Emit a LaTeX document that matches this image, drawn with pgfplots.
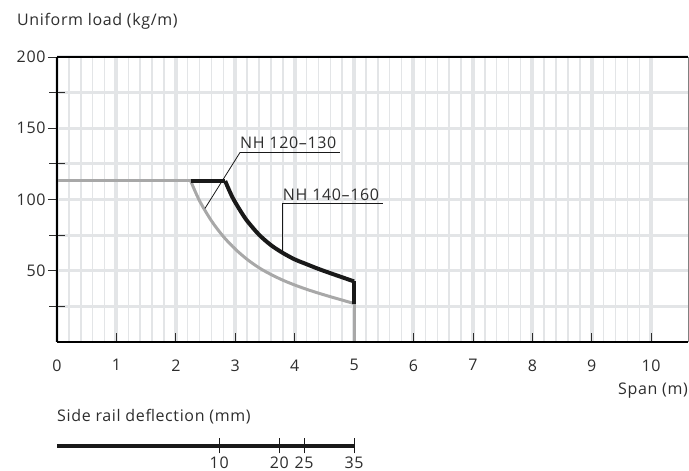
\documentclass[border=0pt]{standalone}
\usepackage{fontspec}
\setmainfont[LetterSpace=4]{Open Sans}
\usepackage{pgfplots}
\pgfplotsset{compat=1.18}
\definecolor{gridc}{RGB}{227,229,231}
\definecolor{txt}{RGB}{45,45,45}
\definecolor{lgray}{RGB}{168,168,168}
\definecolor{dk}{RGB}{25,25,25}

\begin{document}
\begin{tikzpicture}[font=\fontsize{16}{18}\selectfont, text=txt]
\useasboundingbox (0,0) rectangle (689pt,471pt);
\node[anchor=base west, inner sep=0pt] at (17pt,445pt) {Uniform load (kg/m)};
\begin{axis}[
  at={(57pt,129pt)}, anchor=south west,
  scale only axis, width=631pt, height=285pt,
  xmin=0, xmax=10.62, ymin=0, ymax=200,
  axis line style={draw=none},
  xtick={0,...,10}, ytick={50,100,150,200},
  extra y ticks={25,75,125,175}, extra y tick labels={},
  extra y tick style={grid=major, ytick align=center, major tick length=15pt},
  minor x tick num=4,
  xmajorgrids, xminorgrids, ymajorgrids,
  major x grid style={gridc, line width=4pt},
  minor x grid style={gridc, line width=1.5pt},
  major y grid style={gridc, line width=3pt},
  minor tick length=0pt,
  xtick align=inside, ytick align=outside,
  major tick length=9pt,
  tick style={txt, line width=0.8pt},
  xtick pos=bottom, ytick pos=left,
  /pgf/number format/assume math mode=true,
  ticklabel style={font=\fontsize{16}{18}\selectfont},
  xticklabel style={yshift=-14pt},
  yticklabel style={xshift=1pt},
  clip=false,
]
% NH 120-130
\addplot[lgray, line width=3pt] coordinates {(0,113) (2.25,113)};
\addplot[lgray, line width=3pt, smooth, tension=0.5] coordinates
  {(2.25,113) (2.4,99) (2.6,85) (2.8,74) (3.0,65.2) (3.2,58) (3.4,52.1) (3.6,47.4) (3.8,43.4) (4.0,40) (4.2,37) (4.4,34.3) (4.6,31.8) (4.8,29.4) (5,27)};
\addplot[lgray, line width=3pt] coordinates {(5,27) (5,0)};
% NH 140-160
\addplot[dk, line width=4pt] coordinates {(2.25,113) (2.83,113)};
\addplot[dk, line width=4pt, smooth, tension=0.5] coordinates
  {(2.83,113) (2.95,101.8) (3.08,92.5) (3.2,85) (3.4,75.3) (3.6,68) (3.8,62.5) (4.0,58) (4.2,54.6) (4.4,51.3) (4.6,48.3) (4.8,45.4) (5,42.5)};
\addplot[dk, line width=4pt] coordinates {(5,42.5) (5,27)};
% leaders
\draw[dk, line width=0.8pt] (axis cs:2.49,93.7) -- (axis cs:3.08,133) -- (axis cs:4.76,133);
\node[anchor=base west, inner sep=0pt] at (axis cs:3.08,135.8) {NH 120–130};
\draw[dk, line width=0.8pt] (axis cs:3.8,62.5) -- (axis cs:3.8,97.2) -- (axis cs:5.49,97.2);
\node[anchor=base west, inner sep=0pt] at (axis cs:3.8,99.6) {NH 140–160};
% frame
\draw[gray, line width=0.8pt] (rel axis cs:1,0) -- (rel axis cs:1,1);
\draw[black, line width=1.5pt] (rel axis cs:0,1) -- (rel axis cs:1,1);
\draw[black, line width=2pt] (rel axis cs:0,0) -- (rel axis cs:1,0);
\draw[black, line width=2pt] (rel axis cs:0,0) -- (rel axis cs:0,1);
\end{axis}
\node[anchor=base east, inner sep=0pt] at (688pt,76pt) {Span (m)};
\node[anchor=base west, inner sep=0pt] at (57pt,49pt) {Side rail deflection (mm)};
\begin{axis}[
  at={(57pt,25pt)}, anchor=south west,
  scale only axis, width=631pt, height=10pt,
  xmin=0, xmax=10.62, ymin=0, ymax=1,
  axis y line=none, axis x line*=bottom,
  x axis line style={draw=none},
  xtick={2.73,3.74,4.16,5}, xticklabels={10,20,25,35},
  xtick align=center, major tick length=15pt,
  tick style={dk, line width=0.8pt},
  ticklabel style={font=\fontsize{16}{18}\selectfont},
  xticklabel style={yshift=0pt},
  clip=false,
]
\addplot[dk, line width=4pt] coordinates {(0,0) (5,0)};
\end{axis}
\end{tikzpicture}
\end{document}
